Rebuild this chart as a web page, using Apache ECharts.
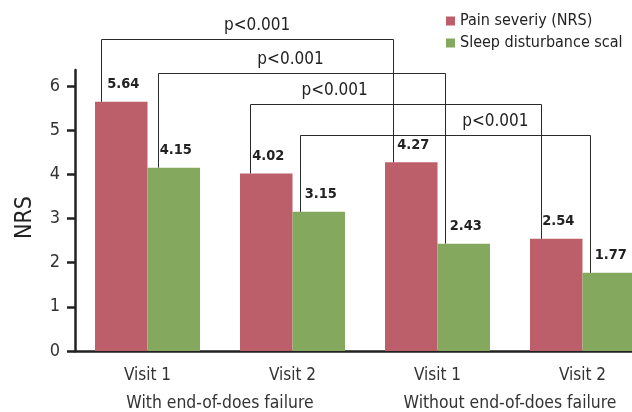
<!DOCTYPE html>
<html>
<head>
<meta charset="utf-8">
<script src="https://cdn.jsdelivr.net/npm/echarts@6/dist/echarts.min.js"></script>
<style>
  html, body { margin: 0; padding: 0; background: #fff; }
  #chart { width: 632px; height: 412px; }
</style>
</head>
<body>
<div id="chart"></div>
<script>
// Visit categories and their groups
const categories = ['Visit 1', 'Visit 2', 'Visit 1', 'Visit 2'];
const groups = ['With end-of-does failure', 'Without end-of-does failure'];
const seriesNames = ['Pain severiy (NRS)', 'Sleep disturbance scal'];

// Mean scores per visit
const painSeverity = [5.64, 4.02, 4.27, 2.54];
const sleepDisturbance = [4.15, 3.15, 2.43, 1.77];

// Y axis tick values
const yTicks = [0, 1, 2, 3, 4, 5, 6];

// Pairwise comparisons: series index (0 pain, 1 sleep), two categories, p text
const comparisons = [
  { series: 0, a: 0, b: 2, p: 'p<0.001' },
  { series: 1, a: 0, b: 2, p: 'p<0.001' },
  { series: 0, a: 1, b: 3, p: 'p<0.001' },
  { series: 1, a: 1, b: 3, p: 'p<0.001' }
];

const seriesValues = [painSeverity, sleepDisturbance];

// ---- layout / styling ----
const FONT = "'Liberation Sans Narrow', 'Arial Narrow', 'DejaVu Sans Condensed', sans-serif";
const COLORS = ['#bd5f6a', '#84a85d'];
const CAT_GAP = 0.276;
// bracket heights (value units), end offsets (px from bar edge), label position along bracket
const bracketLevels = [7.06, 6.30, 5.58, 4.90];
const bracketOffsets = [[6, 8], [10, 7], [10, 11], [7, 7]];
const bracketLabelPos = [0.533, 0.46, 0.289, 0.672];

const chart = echarts.init(document.getElementById('chart'), null, { renderer: 'canvas' });

const barSeries = seriesValues.map((vals, si) => ({
  name: seriesNames[si],
  type: 'bar',
  xAxisIndex: 0,
  yAxisIndex: 0,
  data: vals,
  barGap: '0%',
  barCategoryGap: (CAT_GAP * 100) + '%',
  itemStyle: { color: COLORS[si] },
  label: {
    show: true,
    position: 'top',
    distance: 10,
    offset: [2, 0],
    color: '#222',
    fontFamily: FONT,
    fontSize: 14.5,
    fontWeight: 'bold',
    formatter: p => p.value.toFixed(2)
  },
  z: 2
}));

const bracketSeries = {
  type: 'custom',
  xAxisIndex: 0,
  yAxisIndex: 0,
  silent: true,
  clip: false,
  z: 5,
  data: comparisons.map((c, i) => [i]),
  renderItem: function (params, api) {
    const i = params.dataIndex;
    const c = comparisons[i];
    const band = api.size([1, 0])[0];
    const barW = band * (1 - CAT_GAP) / 2;
    const endX = (cat, off) => {
      const cx = api.coord([cat, 0])[0];
      return Math.round((c.series === 0 ? cx - barW : cx) + off) + 0.5;
    };
    const x1 = endX(c.a, bracketOffsets[i][0]);
    const x2 = endX(c.b, bracketOffsets[i][1]);
    const yTop = Math.round(api.coord([0, bracketLevels[i]])[1]) + 0.5;
    const y1 = api.coord([c.a, seriesValues[c.series][c.a]])[1];
    const y2 = api.coord([c.b, seriesValues[c.series][c.b]])[1];
    const tx = x1 + (x2 - x1) * bracketLabelPos[i];
    return {
      type: 'group',
      children: [
        {
          type: 'polyline',
          shape: { points: [[x1, y1], [x1, yTop], [x2, yTop], [x2, y2]] },
          style: { stroke: '#2a2a2a', lineWidth: 1, fill: null }
        },
        {
          type: 'text',
          x: tx,
          y: yTop - 14,
          style: {
            text: c.p,
            fill: '#222',
            font: '17px ' + FONT,
            align: 'center',
            verticalAlign: 'middle'
          }
        }
      ]
    };
  }
};

const option = {
  animation: false,
  backgroundColor: '#fff',
  grid: { left: 75, top: 70, width: 580, height: 281, containLabel: false, outerBoundsMode: 'none' },
  legend: {
    data: seriesNames,
    orient: 'vertical',
    left: 441,
    top: 8,
    icon: 'rect',
    itemWidth: 9,
    itemHeight: 9,
    itemGap: 6,
    textStyle: { fontFamily: FONT, fontSize: 16, color: '#222' }
  },
  xAxis: [
    {
      type: 'category',
      data: categories,
      position: 'bottom',
      axisLine: { show: true, lineStyle: { color: '#222', width: 2.5 } },
      axisTick: { show: false },
      axisLabel: { color: '#333', fontFamily: FONT, fontSize: 17, margin: 16, interval: 0 }
    },
    {
      type: 'category',
      data: groups,
      position: 'bottom',
      offset: 28,
      axisLine: { show: false },
      axisTick: { show: false },
      axisLabel: { color: '#333', fontFamily: FONT, fontSize: 17.4, margin: 16, interval: 0 }
    }
  ],
  yAxis: {
    type: 'value',
    min: 0,
    max: 6.36,
    name: 'NRS',
    nameLocation: 'middle',
    nameGap: 38,
    nameTextStyle: { fontFamily: FONT, fontSize: 23, color: '#222', padding: [0, 14, 0, 0] },
    axisLine: { show: true, lineStyle: { color: '#222', width: 2.5 } },
    axisTick: { show: true, length: 8, lineStyle: { color: '#222', width: 2.5 }, customValues: yTicks },
    axisLabel: { color: '#333', fontFamily: FONT, fontSize: 18, margin: 15, customValues: yTicks },
    splitLine: { show: false }
  },
  series: [...barSeries, bracketSeries]
};

chart.setOption(option);
</script>
</body>
</html>
